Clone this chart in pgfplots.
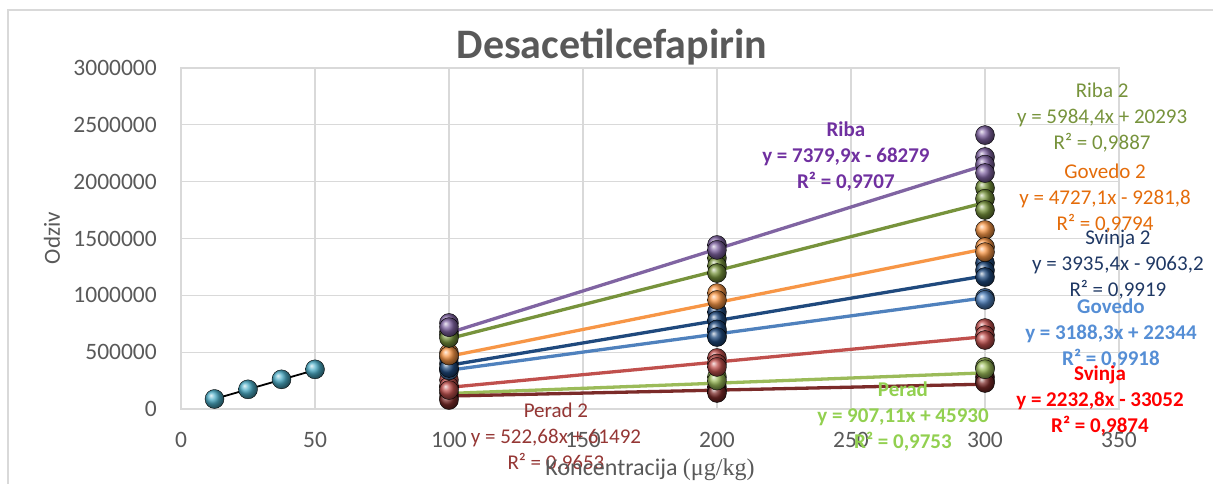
\documentclass[border=0pt]{standalone}
\usepackage{pgfplots}
\pgfplotsset{compat=1.18}
\usepackage{fontspec}
\setmainfont{Carlito}
\newfontfamily\seriffont{Liberation Serif}
\definecolor{cCyan}{HTML}{4BACC6}
\definecolor{cPurple}{HTML}{8064A2}
\definecolor{cOlive}{HTML}{77933C}
\definecolor{cOrange}{HTML}{F79646}
\definecolor{cDBlue}{HTML}{1F497D}
\definecolor{cBlue}{HTML}{4F81BD}
\definecolor{cRed}{HTML}{C0504D}
\definecolor{cLGreen}{HTML}{9BBB59}
\definecolor{cDRed}{HTML}{7B2B29}
\definecolor{tGrey}{HTML}{595959}
\definecolor{gridc}{HTML}{D9D9D9}
\definecolor{lRiba}{HTML}{7030A0}
\definecolor{lRiba2}{HTML}{77933C}
\definecolor{lGov2}{HTML}{E46C0A}
\definecolor{lSv2}{HTML}{1F3864}
\definecolor{lGov}{HTML}{558ED5}
\definecolor{lSv}{HTML}{FF0000}
\definecolor{lPer}{HTML}{92D050}
\definecolor{lPer2}{HTML}{953735}
\begin{document}
\begin{tikzpicture}
\path[use as bounding box] (0pt,0pt) rectangle (1213pt,484pt);
\draw[gridc, line width=1.2pt] (8pt,-30pt) rectangle (1250pt,474pt);
\begin{axis}[
  at={(181pt,75pt)}, anchor=south west,
  scale only axis, width=938pt, height=341pt,
  xmin=0, xmax=350, ymin=0, ymax=3000000,
  xtick={0,50,...,350}, ytick={0,500000,1000000,1500000,2000000,2500000,3000000},
  grid=major, major grid style={gridc, line width=1.2pt},
  axis line style={gridc, line width=1.2pt},
  tick style={draw=none},
  scaled y ticks=false,
  /pgf/number format/fixed,
  /pgf/number format/1000 sep={},
  /pgf/number format/assume math mode=true,
  ticklabel style={font=\fontsize{23.5}{28}\selectfont, text=tGrey},
  xticklabel style={anchor=center, inner sep=0pt, yshift=-31pt},
  yticklabel style={anchor=east, inner sep=0pt, xshift=-24pt},
  clip=false,
  mark size=9.5pt,
]
% Cyan series
\addplot[only marks, mark=ball, mark options={ball color=cCyan}] coordinates {(12.5,88000) (25,173000) (37.5,261000) (50,349000)};
\addplot[black, line width=1.8pt] coordinates {(12.5,88000) (50,343000)};
% Perad 2
\addplot[only marks, mark=ball, mark options={ball color=cDRed}] coordinates {(100,141000) (100,100000) (100,79000) (200,194000) (200,160000) (200,141000) (300,282000) (300,250000) (300,229000)};
% Perad
\addplot[only marks, mark=ball, mark options={ball color=cLGreen}] coordinates {(100,194000) (200,282000) (200,250000) (300,370000) (300,350000)};
% Svinja
\addplot[only marks, mark=ball, mark options={ball color=cRed}] coordinates {(100,255000) (100,200000) (100,167000) (200,449000) (200,400000) (200,370000) (300,712000) (300,650000) (300,607000)};
% Govedo
\addplot[only marks, mark=ball, mark options={ball color=cBlue}] coordinates {(100,350000) (100,340000) (200,680000) (200,640000) (300,977000) (300,960000)};
% Svinja 2
\addplot[only marks, mark=ball, mark options={ball color=cDBlue}] coordinates {(100,449000) (100,400000) (100,361000) (200,853000) (200,780000) (200,700000) (200,633000) (300,1284000) (300,1220000) (300,1161000)};
% Govedo 2
\addplot[only marks, mark=ball, mark options={ball color=cOrange}] coordinates {(100,493000) (100,470000) (200,1020000) (200,959000) (300,1575000) (300,1425000) (300,1380000)};
% Riba 2
\addplot[only marks, mark=ball, mark options={ball color=cOlive}] coordinates {(100,677000) (100,650000) (100,625000) (200,1328000) (200,1260000) (200,1196000) (300,1944000) (300,1850000) (300,1751000)};
% Riba
\addplot[only marks, mark=ball, mark options={ball color=cPurple}] coordinates {(100,757000) (100,720000) (200,1443000) (200,1400000) (300,2410000) (300,2217000) (300,2150000) (300,2076000)};
% Trend lines
\addplot[cPurple, line width=3.3pt] coordinates {(100,669711) (300,2145691)};
\addplot[cOlive, line width=3.3pt] coordinates {(100,618733) (300,1815613)};
\addplot[cOrange, line width=3.3pt] coordinates {(100,463428) (300,1408848)};
\addplot[cDBlue, line width=3.3pt] coordinates {(100,384477) (300,1171557)};
\addplot[cBlue, line width=3.3pt] coordinates {(100,341174) (300,978834)};
\addplot[cRed, line width=3.3pt] coordinates {(100,190228) (300,636788)};
\addplot[cLGreen, line width=3.3pt] coordinates {(100,136641) (300,318063)};
\addplot[cDRed, line width=3.3pt] coordinates {(100,113760) (300,218296)};
% Labels
\begin{scope}[every node/.style={align=center, font=\fontsize{21}{26}\selectfont, inner sep=0pt}]
\node[text=lRiba, font=\fontsize{21}{26}\selectfont\bfseries] at (axis cs:248.1,2217000) {Riba\\y = 7379,9x - 68279\\R² = 0,9707};
\node[text=lRiba2] at (axis cs:343.7,2560000) {Riba 2\\y = 5984,4x + 20293\\R² = 0,9887};
\node[text=lGov2] at (axis cs:344.8,1848000) {Govedo 2\\y = 4727,1x - 9281,8\\R² = 0,9794};
\node[text=lSv2] at (axis cs:349.6,1267000) {Svinja 2\\y = 3935,4x - 9063,2\\R² = 0,9919};
\node[text=lGov, font=\fontsize{21}{26}\selectfont\bfseries] at (axis cs:347.0,660000) {Govedo\\y = 3188,3x + 22344\\R² = 0,9918};
\node[text=lSv, font=\fontsize{21}{26}\selectfont\bfseries] at (axis cs:342.9,70000) {Svinja\\y = 2232,8x - 33052\\R² = 0,9874};
\node[text=lPer, font=\fontsize{21}{26}\selectfont\bfseries] at (axis cs:269.4,-70000) {Perad\\y = 907,11x + 45930\\R² = 0,9753};
\node[text=lPer2] at (axis cs:139.9,-255000) {Perad 2\\y = 522,68x + 61492\\R² = 0,9653};
\end{scope}
\end{axis}
\node[font=\fontsize{42}{48}\selectfont\bfseries, text=tGrey, inner sep=0pt] at (612pt,437pt) {Desacetilcefapirin};
\node[font=\fontsize{23}{28}\selectfont, text=tGrey, rotate=90, inner sep=0pt] at (52pt,246pt) {Odziv};
\node[font=\fontsize{24}{28}\selectfont, text=tGrey, inner sep=0pt] at (650pt,14pt) {Koncentracija {\seriffont (μg/kg)}};
\end{tikzpicture}
\end{document}
